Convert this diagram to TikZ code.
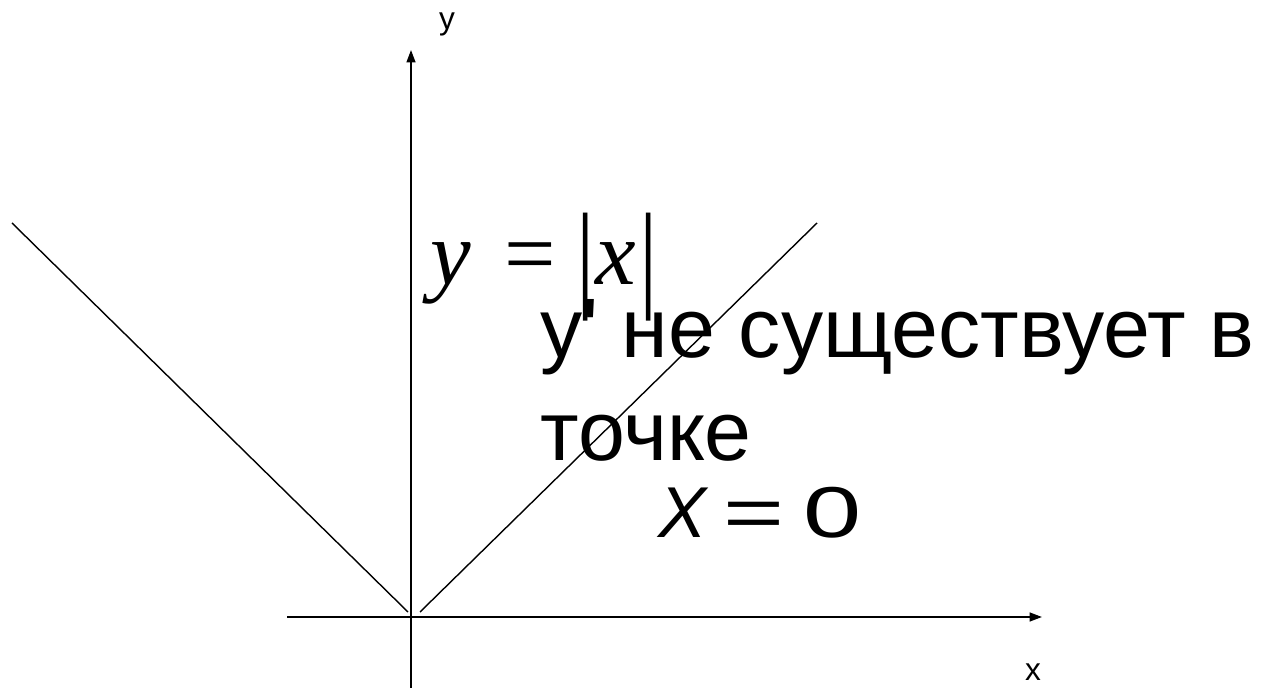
\documentclass[tikz,border=0pt]{standalone}
\usepackage{fontspec}
\usepackage{graphicx}
\newfontfamily\sansru{Liberation Sans}
\newfontfamily\serifm{Liberation Serif}
\usetikzlibrary{arrows.meta}

\begin{document}
\begin{tikzpicture}[
    x=0.02cm, y=-0.02cm,
    axis/.style={-{Triangle[length=7pt,width=5pt]}, line width=1pt},
    graph/.style={line width=0.8pt},
    axislabel/.style={font=\sansru\fontsize{18}{20}\selectfont, inner sep=0pt, anchor=base},
    bigtext/.style={font=\sansru\fontsize{48}{58}\selectfont, inner sep=0pt, anchor=base west},
    formula/.style={font=\serifm\fontsize{52}{60}\selectfont, inner sep=0pt, anchor=base west}
]
\useasboundingbox (0,0) rectangle (1263,688);

% axes
\coordinate (xstart) at (287,617);
\coordinate (xend) at (1042,617);
\coordinate (ystart) at (411,688);
\coordinate (yend) at (411,50);
\draw[axis] (xstart) -- (xend);
\draw[axis] (ystart) -- (yend);
\node[axislabel] (ylab) at (447,30) {y};
\node[axislabel] (xlab) at (1033,680) {x};

% graph of |x|
\coordinate (lefttop) at (12,223);
\coordinate (leftend) at (408,612);
\coordinate (rightstart) at (420,612);
\coordinate (righttop) at (817,223);
\draw[graph] (lefttop) -- (leftend);
\draw[graph] (rightstart) -- (righttop);

% labels
\node[formula] (func) at (430,285) {{\itshape y}\hspace{19pt}=\hspace{12pt}\raisebox{-0.12em}{\scalebox{1}[1.3]{|}}{\itshape x}\hspace{2pt}\raisebox{-0.12em}{\scalebox{1}[1.3]{|}}};
\node[bigtext] (line1) at (540,358) {у' не существует в};
\node[bigtext] (line2) at (540,460) {точке};
\node[font=\sansru\fontsize{41}{48}\selectfont, inner sep=0pt, anchor=base west] (point) at (658,537) {{\itshape X}\hspace{9.6pt}\scalebox{1.45}[1]{=}\hspace{10.8pt}\scalebox{1.45}[1]{0}};

\end{tikzpicture}
\end{document}
